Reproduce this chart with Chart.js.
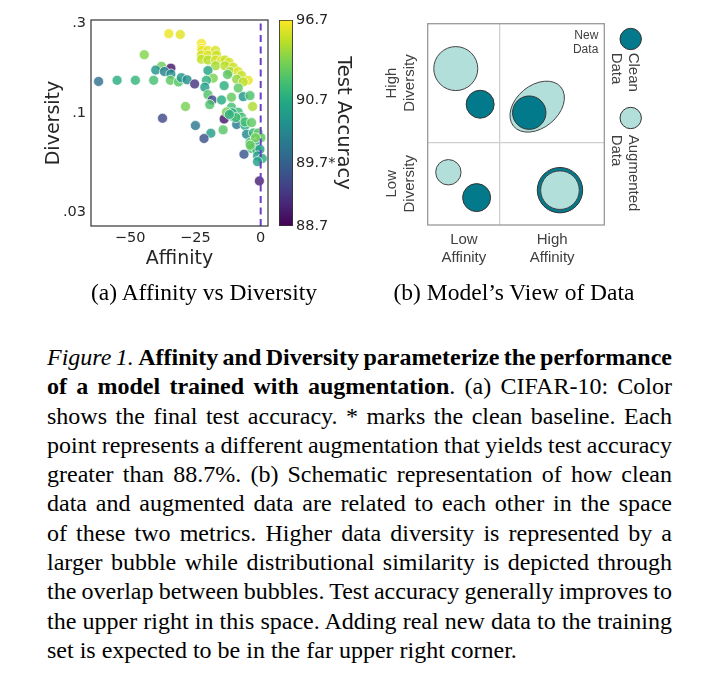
<!DOCTYPE html>
<html>
<head>
<meta charset="utf-8">
<script src="https://cdn.jsdelivr.net/npm/chart.js@4"></script>
<style>
  html, body { margin: 0; padding: 0; background: #fff; }
  body { width: 715px; height: 692px; position: relative; overflow: hidden; }
  canvas { position: absolute; }
  #chartA { left: 0; top: 0; }
  #cbar { left: 270px; top: 0; }
  #chartB { left: 380px; top: 0; }
  .sub { position: absolute; width: 320px; text-align: center; top: 281px;
         font: 23.5px/23.5px "Liberation Serif", "Times New Roman", serif; color: #000; }
  #caption { position: absolute; left: 47px; top: 343px; width: 625px;
             font: 24px/29.3px "Liberation Serif", "Times New Roman", serif; color: #000; }
  #caption div { text-align: justify; text-align-last: justify; white-space: nowrap; }
  #caption div.last { text-align-last: left; }
</style>
</head>
<body>
<canvas id="chartA" width="275" height="285"></canvas>
<canvas id="cbar" width="90" height="285"></canvas>
<canvas id="chartB" width="290" height="285"></canvas>
<div class="sub" style="left:44px">(a) Affinity vs Diversity</div>
<div class="sub" style="left:354px">(b) Model’s View of Data</div>
<div id="caption">
  <div><i>Figure 1.</i> <b>Affinity and Diversity parameterize the performance</b></div>
  <div><b>of a model trained with augmentation</b>. (a) CIFAR-10: Color</div>
  <div>shows the final test accuracy. * marks the clean baseline. Each</div>
  <div>point represents a different augmentation that yields test accuracy</div>
  <div>greater than 88.7%. (b) Schematic representation of how clean</div>
  <div>data and augmented data are related to each other in the space</div>
  <div>of these two metrics. Higher data diversity is represented by a</div>
  <div>larger bubble while distributional similarity is depicted through</div>
  <div>the overlap between bubbles. Test accuracy generally improves to</div>
  <div>the upper right in this space. Adding real new data to the training</div>
  <div class="last">set is expected to be in the far upper right corner.</div>
</div>
<script>
// (a) one entry per augmentation
const affinity = [-35.2, -30.8, -44.6, -38.0, -34.4, -40.2, -36.9, -34.4, -62.1, -55.0,
  -48.0, -41.0, -34.6, -31.5, -30.4, -28.2, -28.8, -37.6, -22.7, -22.7,
  -22.5, -20.2, -17.3, -22.7, -20.2, -16.9, -22.7, -20.2, -17.3, -15.0,
  -13.7, -12.1, -17.3, -13.7, -10.5, -11.8, -8.6, -7.3, -4.8, -9.2,
  -6.7, -20.2, -18.2, -20.8, -12.7, -25.3, -21.4, -14.0, -8.6, -11.2,
  -6.7, -4.1, -20.2, -18.6, -15.0, -19.5, -3.1, -11.2, -8.6, -14.0,
  -10.5, -7.3, -9.2, -25.0, -6.0, -13.1, -10.9, -9.5, -6.0, -3.5,
  -19.1, -14.4, -21.7, -5.4, -2.8, -0.9, 0.1, -4.1, -2.2, -3.5,
  -1.5, -0.3, -6.4, -1.2, 0.6, -1.2, -0.5, -2.0, -4.0, -12.0];
const diversity = [0.265, 0.262, 0.205, 0.178, 0.174, 0.170, 0.167, 0.162, 0.148, 0.150,
  0.150, 0.150, 0.150, 0.147, 0.155, 0.151, 0.109, 0.0944, 0.235, 0.222,
  0.216, 0.216, 0.216, 0.204, 0.204, 0.204, 0.194, 0.192, 0.192, 0.191,
  0.192, 0.187, 0.179, 0.179, 0.176, 0.167, 0.167, 0.159, 0.150, 0.152,
  0.147, 0.169, 0.154, 0.150, 0.161, 0.1435, 0.138, 0.1406, 0.1365, 0.122,
  0.123, 0.1245, 0.126, 0.118, 0.118, 0.1116, 0.109, 0.108, 0.1016, 0.0936,
  0.0964, 0.0956, 0.0875, 0.0864, 0.0864, 0.102, 0.101, 0.0952, 0.0903, 0.0896,
  0.0787, 0.082, 0.0738, 0.0777, 0.079, 0.079, 0.0746, 0.0703, 0.0688, 0.0653,
  0.0642, 0.0647, 0.0609, 0.0597, 0.0578, 0.0557, 0.044, 0.0745, 0.068, 0.099];
const accuracy = [96.3, 96.0, 93.8, 93.2, 88.9, 90.4, 90.1, 90.3, 89.9, 90.8,
  91.3, 92.0, 92.8, 92.6, 90.4, 90.3, 93.5, 89.4, 96.4, 96.5,
  96.2, 96.0, 95.8, 95.6, 95.9, 95.5, 95.3, 95.0, 95.6, 96.1,
  95.4, 95.8, 94.6, 95.0, 95.5, 94.8, 95.9, 95.3, 96.2, 94.2,
  95.1, 90.6, 93.6, 91.0, 92.6, 89.2, 90.5, 91.0, 92.8, 92.9,
  90.4, 92.2, 92.4, 89.4, 90.7, 92.3, 94.8, 92.0, 91.6, 88.9,
  90.9, 92.0, 90.0, 90.0, 90.7, 93.5, 91.0, 91.8, 92.0, 92.8,
  90.5, 92.6, 89.5, 90.2, 91.5, 92.8, 92.8, 92.0, 90.7, 92.1,
  91.6, 90.5, 89.6, 90.5, 90.8, 90.5, 89.0, 93.4, 93.0, 91.2];
const cleanBaseline = 0;
const xTicks = [-50, -25, 0];
const yTicks = [0.03, 0.1, 0.3];
const yTickLabels = ['.03', '.1', '.3'];
const cbarTicks = [88.7, 89.7, 90.7, 96.7];
const cbarTickLabels = ['88.7', '89.7*', '90.7', '96.7'];
const cbarStops = [0, 0.306, 0.612, 1];

// (b) schematic
const levelTicks = [0.205, 0.705];
const affinityLevels = [['Low', 'Affinity'], ['High', 'Affinity']];
const diversityLevels = [['Low', 'Diversity'], ['High', 'Diversity']];
const cleanX = [0.297, 0.575, 0.277, 0.749];
const cleanY = [0.600, 0.558, 0.136, 0.173];
const cleanR = [14, 16.7, 14, 22.7];
const augX = [0.159, 0.117, 0.749];
const augY = [0.777, 0.262, 0.173];
const augR = [22, 12.7, 19.3];
const augEllipse = { x: 0.62, y: 0.588, rx: 30.7, ry: 21.2, angle: -39.7 };

const VIRIDIS = [[68,1,84],[72,36,117],[65,68,135],[53,95,141],[42,120,142],[33,145,140],
  [34,168,132],[68,191,112],[122,209,81],[189,223,38],[253,231,37]];
function viridis(t, a) {
  t = Math.max(0, Math.min(1, t));
  const s = t * 10, i = Math.min(9, Math.floor(s)), f = s - i;
  const c = [0, 1, 2].map(k => Math.round(VIRIDIS[i][k] + (VIRIDIS[i + 1][k] - VIRIDIS[i][k]) * f));
  return `rgba(${c[0]},${c[1]},${c[2]},${a === undefined ? 1 : a})`;
}
function accNorm(v) {
  for (let i = 1; i < cbarTicks.length; i++) {
    if (v <= cbarTicks[i] || i === cbarTicks.length - 1) {
      const f = (v - cbarTicks[i - 1]) / (cbarTicks[i] - cbarTicks[i - 1]);
      return cbarStops[i - 1] + f * (cbarStops[i] - cbarStops[i - 1]);
    }
  }
}

// squeeze the justified caption lines that are too long, like TeX does
document.querySelectorAll('#caption div').forEach(d => {
  const r = document.createRange();
  r.selectNodeContents(d);
  const w = r.getBoundingClientRect().width;
  const n = (d.textContent.match(/ /g) || []).length;
  if (w > 625 && n) d.style.wordSpacing = ((625 - w) / n) + 'px';
});

const dark = '#262626';
const dv = '"DejaVu Sans", sans-serif';
const yMin = 0.0254, yMax = 0.313;

const frame = {
  id: 'frame',
  afterDraw(chart, args, opts) {
    const { ctx, chartArea: a } = chart;
    ctx.save();
    ctx.strokeStyle = opts.color;
    ctx.lineWidth = opts.width;
    ctx.strokeRect(a.left, a.top, a.right - a.left, a.bottom - a.top);
    ctx.restore();
  }
};

// Affinity vs Diversity scatter
new Chart(document.getElementById('chartA'), {
  type: 'scatter',
  data: {
    datasets: [
      {
        type: 'line',
        data: [{ x: cleanBaseline, y: yMin }, { x: cleanBaseline, y: yMax }],
        borderColor: '#6a3fc6',
        borderWidth: 2,
        borderDash: [7, 4.5],
        pointRadius: 0,
        order: 0
      },
      {
        data: affinity.map((a, i) => ({ x: a, y: diversity[i] })),
        backgroundColor: accuracy.map(v => viridis(accNorm(v), 0.82)),
        borderColor: 'rgba(255,255,255,0.85)',
        borderWidth: 0.8,
        pointRadius: 5,
        order: 1
      }
    ]
  },
  options: {
    responsive: false,
    animation: false,
    layout: { padding: { top: 20, right: 7, left: 0, bottom: 0 } },
    plugins: { legend: { display: false }, tooltip: { enabled: false }, frame: { color: '#333', width: 1.2 } },
    scales: {
      x: {
        type: 'linear', min: -65, max: 2.8,
        afterBuildTicks: s => { s.ticks = xTicks.map(v => ({ value: v })); },
        afterFit: s => { s.height = 59; },
        grid: { display: false, drawTicks: false },
        border: { display: false },
        ticks: {
          padding: 4, color: dark, font: { family: dv, size: 14.5 },
          callback: v => v < 0 ? '\u2212' + Math.abs(v) : String(v)
        },
        title: { display: true, text: 'Affinity', color: dark, font: { family: dv, size: 19 }, padding: { top: 0, bottom: 15 } }
      },
      y: {
        type: 'logarithmic', min: yMin, max: yMax,
        afterBuildTicks: s => { s.ticks = yTicks.map(v => ({ value: v })); },
        afterFit: s => { s.width = 91; },
        grid: { display: false, drawTicks: false },
        border: { display: false },
        ticks: {
          padding: 5, color: dark, font: { family: dv, size: 14.5 },
          callback: (v, i) => yTickLabels[i]
        },
        title: { display: true, text: 'Diversity', color: dark, font: { family: dv, size: 19 }, padding: { top: 43, bottom: 0 } }
      }
    }
  },
  plugins: [frame]
});

// colour bar
new Chart(document.getElementById('cbar'), {
  type: 'bar',
  data: {
    labels: ['acc'],
    datasets: [{
      data: [[0, 1]],
      backgroundColor: c => {
        const a = c.chart.chartArea;
        if (!a) return '#888';
        const g = c.chart.ctx.createLinearGradient(0, a.bottom, 0, a.top);
        for (let k = 0; k <= 20; k++) g.addColorStop(k / 20, viridis(k / 20));
        return g;
      },
      borderColor: '#333',
      borderWidth: 1.2,
      borderSkipped: false,
      barPercentage: 1,
      categoryPercentage: 1
    }]
  },
  options: {
    responsive: false,
    animation: false,
    layout: { padding: { top: 20, left: 9, bottom: 59, right: 0 } },
    plugins: { legend: { display: false }, tooltip: { enabled: false } },
    scales: {
      x: { display: false },
      y: {
        position: 'right', min: 0, max: 1,
        afterBuildTicks: s => { s.ticks = cbarTicks.map(v => ({ value: accNorm(v) })); },
        afterFit: s => { s.width = 67; },
        grid: { display: false, drawTicks: false },
        border: { display: false },
        ticks: { padding: 3, color: dark, font: { family: dv, size: 14.5 }, callback: (v, i) => cbarTickLabels[i] },
        title: { display: true, text: 'Test Accuracy', color: dark, font: { family: dv, size: 19.5 }, padding: { top: 5, bottom: 0 } }
      }
    }
  }
});

// Model's view of data
const arial = '"Liberation Sans", Arial, sans-serif';
const gray = '#404040';
const cleanColor = '#037a8b';
const augColor = '#b3dfdb';

const schematic = {
  id: 'schematic',
  beforeDatasetsDraw(chart) {
    const { ctx, scales } = chart;
    ctx.save();
    ctx.beginPath();
    ctx.ellipse(scales.x.getPixelForValue(augEllipse.x), scales.y.getPixelForValue(augEllipse.y),
      augEllipse.rx, augEllipse.ry, augEllipse.angle * Math.PI / 180, 0, Math.PI * 2);
    ctx.fillStyle = augColor;
    ctx.fill();
    ctx.strokeStyle = '#444';
    ctx.lineWidth = 1;
    ctx.stroke();
    ctx.restore();
  },
  afterDraw(chart) {
    const { ctx, chartArea: a, scales } = chart;
    ctx.save();
    ctx.fillStyle = gray;
    ctx.font = '15px ' + arial;
    ctx.textAlign = 'center';
    ctx.textBaseline = 'middle';
    diversityLevels.forEach((lab, i) => {
      ctx.save();
      ctx.translate(a.left - 36, scales.y.getPixelForValue(levelTicks[i]));
      ctx.rotate(-Math.PI / 2);
      ctx.fillText(lab[0], 0, 0);
      ctx.fillText(lab[1], 0, 18.3);
      ctx.restore();
    });
    // new data note
    ctx.font = '12px ' + arial;
    ctx.textAlign = 'right';
    ctx.fillText('New', a.right - 6, a.top + 12);
    ctx.fillText('Data', a.right - 6, a.top + 26);
    // legend
    const items = [
      { color: cleanColor, lines: ['Clean', 'Data'], cy: 15.3, ty: 29 },
      { color: augColor, lines: ['Augmented', 'Data'], cy: 94.3, ty: 111 }
    ];
    items.forEach(it => {
      ctx.beginPath();
      ctx.arc(a.right + 26.4, a.top + it.cy, 10.7, 0, Math.PI * 2);
      ctx.fillStyle = it.color;
      ctx.fill();
      ctx.strokeStyle = '#333';
      ctx.lineWidth = 1;
      ctx.stroke();
      ctx.save();
      ctx.translate(a.right + 28.7, a.top + it.ty);
      ctx.rotate(Math.PI / 2);
      ctx.fillStyle = gray;
      ctx.font = '15px ' + arial;
      ctx.textAlign = 'left';
      ctx.fillText(it.lines[0], 0, 0);
      ctx.fillText(it.lines[1], 0, 16.7);
      ctx.restore();
    });
    ctx.restore();
  }
};

const divider = 0.41;
new Chart(document.getElementById('chartB'), {
  type: 'bubble',
  data: {
    datasets: [
      {
        label: 'Augmented Data',
        data: augX.map((x, i) => ({ x: x, y: augY[i], r: augR[i] })),
        backgroundColor: augColor, borderColor: '#444', borderWidth: 1, order: 0
      },
      {
        label: 'Clean Data',
        data: cleanX.map((x, i) => ({ x: x, y: cleanY[i], r: cleanR[i] })),
        backgroundColor: cleanColor, borderColor: '#333', borderWidth: 1, order: 1
      }
    ]
  },
  options: {
    responsive: false,
    animation: false,
    layout: { padding: { top: 19, right: 65.7, left: 0, bottom: 0 } },
    plugins: { legend: { display: false }, tooltip: { enabled: false }, frame: { color: '#999', width: 1.3 } },
    scales: {
      x: {
        type: 'linear', min: 0, max: 1,
        afterBuildTicks: s => { s.ticks = [levelTicks[0], divider, levelTicks[1]].map(v => ({ value: v })); },
        afterFit: s => { s.height = 60; },
        grid: { drawTicks: false, color: c => c.tick && c.tick.value === divider ? '#cfcfcf' : 'rgba(0,0,0,0)', lineWidth: 1.3 },
        border: { display: false },
        ticks: {
          padding: 5, color: gray, maxRotation: 0, font: { family: arial, size: 15, lineHeight: 1.25 },
          callback: v => v === levelTicks[0] ? affinityLevels[0] : v === levelTicks[1] ? affinityLevels[1] : ''
        }
      },
      y: {
        type: 'linear', min: 0, max: 1,
        afterBuildTicks: s => { s.ticks = [divider].map(v => ({ value: v })); },
        afterFit: s => { s.width = 47.7; },
        grid: { drawTicks: false, color: '#cfcfcf', lineWidth: 1.3 },
        border: { display: false },
        ticks: { display: false }
      }
    }
  },
  plugins: [frame, schematic]
});
</script>
</body>
</html>
